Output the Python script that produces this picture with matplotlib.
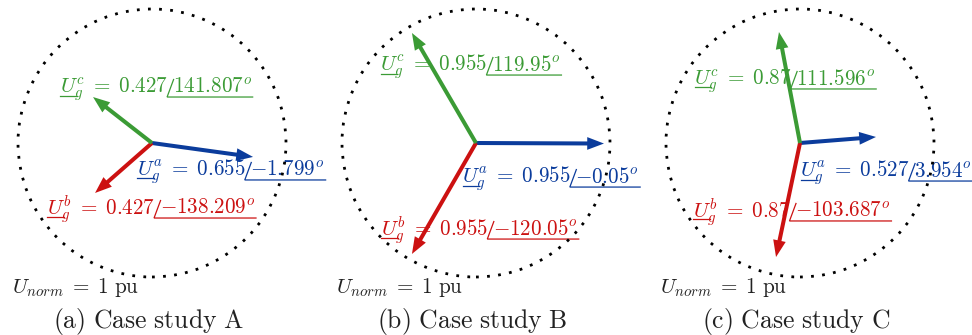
import numpy as np
import matplotlib
matplotlib.use("Agg")
import matplotlib.pyplot as plt
from matplotlib.patches import Circle

plt.rcParams["mathtext.fontset"] = "cm"

# phasor tips as drawn (pu), order: a, b, c
tips_x = {"A": [0.754, -0.425, -0.440],
          "B": [0.955, -0.478, -0.478],
          "C": [0.567, -0.179, -0.157]}
tips_y = {"A": [-0.104, -0.373, 0.343],
          "B": [-0.004, -0.828, 0.821],
          "C": [0.045, -0.851, 0.828]}

# label values
mags = {"A": ["0.655", "0.427", "0.427"],
        "B": ["0.955", "0.955", "0.955"],
        "C": ["0.527", "0.87", "0.87"]}
angs = {"A": ["-1.799", "-138.209", "141.807"],
        "B": ["-0.05", "-120.05", "119.95"],
        "C": ["3.954", "-103.687", "111.596"]}

phases = ["a", "b", "c"]
cases = ["A", "B", "C"]
letters = ["a", "b", "c"]

# layout
label_pos = {"A": [(-0.112, -0.246), (-0.784, -0.530), (-0.687, 0.373)],
             "B": [(-0.104, -0.299), (-0.709, -0.687), (-0.716, 0.537)],
             "C": [(0.0, -0.254), (-0.799, -0.552), (-0.791, 0.433)]}
colors = ["#0b3c9c", "#cc1111", "#3b9b35"]
fs = 15.2
S = 134.0  # pixels per pu

fig = plt.figure(figsize=(9.72, 3.35), dpi=100)
renderer = fig.canvas.get_renderer()


def phasor_label(ax, x, y, ph, mag, ang, color):
    tr = ax.transData
    inv = tr.inverted()
    px, py = tr.transform((x, y))
    t1 = ax.text(x, y, r"$U_g^{%s}\;=\;%s$" % (ph, mag), color=color,
                 fontsize=fs, va="baseline", ha="left", zorder=2)
    bb1 = t1.get_window_extent(renderer)
    tu = ax.text(x, y, r"$U$", fontsize=fs, va="baseline", ha="left")
    wu = tu.get_window_extent(renderer).width
    tu.remove()
    # underline of U
    p = inv.transform([(px + 0.5, py - 2.5), (px + wu - 1, py - 2.5)])
    ax.plot(p[:, 0], p[:, 1], color=color, lw=0.9, clip_on=False, zorder=2)
    # angle part
    xs = bb1.x1 - 1
    ax_x, _ = inv.transform((xs + 5.5, py))
    t2 = ax.text(ax_x, y, r"$%s^o$" % ang, color=color, fontsize=fs,
                 va="baseline", ha="left", zorder=2)
    bb2 = t2.get_window_extent(renderer)
    ul = py - 4.0
    p = inv.transform([(xs + 6.5, ul + 17.5), (xs, ul), (bb2.x1 + 1, ul)])
    ax.plot(p[:, 0], p[:, 1], color=color, lw=0.9, clip_on=False, zorder=2,
            solid_joinstyle="miter")


for i, case in enumerate(cases):
    ax = fig.add_axes([i / 3, 0, 1 / 3, 1])
    ax.set_xlim(-152 / S, 172 / S)
    ax.set_ylim(-192 / S, 143 / S)
    ax.axis("off")
    ax.add_patch(Circle((0, 0), 1.0, fill=False, color="black", lw=2,
                        ls=(0, (1, 3.0)), zorder=4))
    for k in range(3):
        ax.arrow(0, 0, tips_x[case][k], tips_y[case][k], width=0.03,
                 head_width=0.095, head_length=0.125, length_includes_head=True,
                 color=colors[k], lw=0, zorder=3)
        lx, ly = label_pos[case][k]
        phasor_label(ax, lx, ly, phases[k], mags[case][k], angs[case][k],
                     colors[k])
    ax.text(-1.045, -1.119, r"$U_{norm}\;=\;1\ \mathrm{pu}$", fontsize=fs,
            color="#222222", va="baseline", ha="left")
    ax.text(-0.03, -1.378, r"$\mathrm{(%s)\ Case\ study\ %s}$" % (letters[i], case),
            fontsize=18.5, color="#222222", va="baseline", ha="center")

fig.savefig("out.png", dpi=100)
